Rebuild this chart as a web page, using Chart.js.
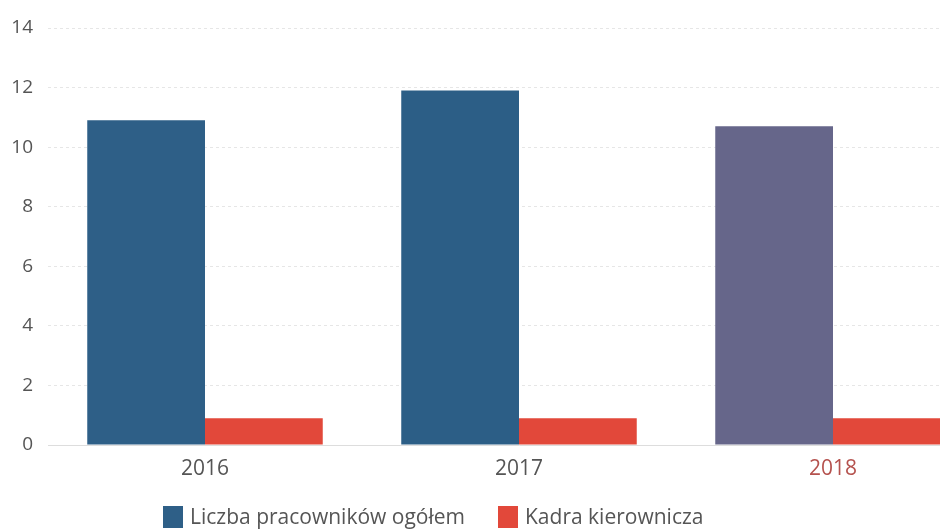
<!DOCTYPE html>
<html>
<head>
<meta charset="utf-8">
<script src="https://cdn.jsdelivr.net/npm/chart.js@4/dist/chart.umd.min.js"></script>
<style>
    body { margin: 0; overflow: hidden; background: #ffffff; width: 940px; height: 531px; position: relative; }
    #chart_box { position: absolute; left: 0; top: 0; width: 1000px; height: 531px; }
    #legend { position: absolute; top: 505px; left: 0; font-family: "Open Sans", sans-serif; font-size: 21px; color: #555555; }
    .legend-item { position: absolute; white-space: nowrap; line-height: 24px; }
    .legend-box { position: absolute; left: 0; top: 1px; width: 20px; height: 22px; }
    .legend-text { position: absolute; left: 27px; top: -1px; }
</style>
</head>
<body>
<div id="chart_box"><canvas id="bar_canvas"></canvas></div>
<div id="legend"></div>
<script>
let years = ["2016", "2017", "2018"];
let series_names = ["Liczba pracowników ogółem", "Kadra kierownicza"];
let employees_total = [10.9, 11.9, 10.7];
let management = [0.9, 0.9, 0.9];
let y_ticks = [0, 2, 4, 6, 8, 10, 12, 14];

let blue_colors = ["#2e5f87", "#2c5e86", "#66668a"];
let red_color = "#e2483a";
let legend_lefts = [163, 498];

document.addEventListener("DOMContentLoaded", ()=>{
    initialize_page();
});

function initialize_page(){
    let canvas = document.getElementById("bar_canvas");
    let chart = new Chart(canvas, {
        type: "bar",
        data: {
            labels: years,
            datasets: [{
                label: series_names[0],
                data: employees_total,
                backgroundColor: blue_colors,
                barPercentage: 1.0,
                categoryPercentage: 0.75
            },{
                label: series_names[1],
                data: management,
                backgroundColor: red_color,
                barPercentage: 1.0,
                categoryPercentage: 0.75
            }]
        },
        options: {
            responsive: true,
            maintainAspectRatio: false,
            animation: false,
            layout: {
                padding: { top: 28, right: 10, bottom: 46, left: 0 }
            },
            plugins: {
                legend: { display: false },
                tooltip: { enabled: false }
            },
            scales: {
                x: {
                    grid: { display: false, drawTicks: false },
                    border: { color: "#dddddd" },
                    ticks: {
                        padding: 11,
                        font: { family: "Open Sans", size: 21 },
                        color: (ctx)=> ctx.index == 2 ? "#b5524e" : "#555555"
                    },
                    afterFit: (scale)=>{ scale.height = 40; }
                },
                y: {
                    min: 0,
                    max: 14,
                    afterBuildTicks: (scale)=>{ scale.ticks = y_ticks.map(v => ({value: v})); },
                    grid: { color: "#e6e6e6", drawTicks: false },
                    border: { display: false, dash: [3, 3] },
                    ticks: {
                        padding: 15,
                        font: { family: "Open Sans", size: 19 },
                        color: "#555555"
                    },
                    afterFit: (scale)=>{ scale.width = 48; }
                }
            }
        }
    });
    build_legend(chart);
}

function build_legend(chart){
    let legend = document.getElementById("legend");
    chart.data.datasets.forEach((ds, i)=>{
        let item = document.createElement("div");
        item.className = "legend-item";
        item.style.left = legend_lefts[i] + "px";
        let box = document.createElement("span");
        box.className = "legend-box";
        box.style.background = Array.isArray(ds.backgroundColor) ? ds.backgroundColor[0] : ds.backgroundColor;
        let text = document.createElement("span");
        text.className = "legend-text";
        text.textContent = ds.label;
        item.appendChild(box);
        item.appendChild(text);
        legend.appendChild(item);
    });
}
</script>
</body>
</html>
